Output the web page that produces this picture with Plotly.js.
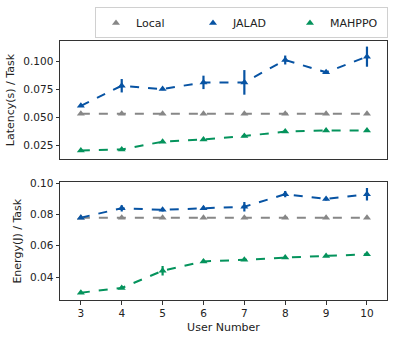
<!DOCTYPE html>
<html>
<head>
<meta charset="utf-8">
<script src="https://cdn.plot.ly/plotly-3.0.1.min.js"></script>
<style>
  html, body { margin: 0; padding: 0; background: #fff; }
  #chart { width: 395px; height: 340px; }
</style>
</head>
<body>
<div id="chart"></div>
<script>
// user counts on the shared x axis
const users = [3, 4, 5, 6, 7, 8, 9, 10];

// latency per task (s)
const latencyLocal  = [0.053, 0.053, 0.053, 0.053, 0.053, 0.053, 0.053, 0.053];
const latencyJalad  = [0.060, 0.078, 0.075, 0.081, 0.081, 0.101, 0.090, 0.104];
const latencyJaladErr = [0.001, 0.006, 0.001, 0.006, 0.011, 0.004, 0.001, 0.009];
const latencyMahppo = [0.020, 0.021, 0.028, 0.030, 0.033, 0.037, 0.038, 0.038];
const latencyMahppoErr = [0.001, 0.001, 0.001, 0.001, 0.001, 0.001, 0.001, 0.001];

// energy per task (J)
const energyLocal  = [0.078, 0.078, 0.078, 0.078, 0.078, 0.078, 0.078, 0.078];
const energyJalad  = [0.078, 0.084, 0.083, 0.084, 0.085, 0.093, 0.090, 0.093];
const energyJaladErr = [0.0005, 0.002, 0.001, 0.001, 0.003, 0.002, 0.001, 0.004];
const energyMahppo = [0.030, 0.033, 0.044, 0.050, 0.051, 0.0525, 0.0535, 0.0545];
const energyMahppoErr = [0.0005, 0.0005, 0.003, 0.001, 0.0005, 0.0005, 0.0005, 0.001];

const colLocal = '#878787';
const colJalad = '#0753a3';
const colMahppo = '#04935c';

// dashed line with error bars, no legend entry
function line(name, y, err, color, panel) {
    const tr = {
        x: users, y: y, name: name, type: 'scatter', mode: 'lines',
        xaxis: panel === 1 ? 'x' : 'x2', yaxis: panel === 1 ? 'y' : 'y2',
        showlegend: false,
        line: { color: color, dash: 'dash', width: 2 }
    };
    if (err) {
        tr.error_y = { type: 'data', array: err, visible: true, color: color, thickness: 2.2, width: 0 };
    }
    return tr;
}

// triangle markers on the same points; these carry the legend
function marks(name, y, color, panel) {
    return {
        x: users, y: y, name: name, type: 'scatter', mode: 'markers',
        xaxis: panel === 1 ? 'x' : 'x2', yaxis: panel === 1 ? 'y' : 'y2',
        showlegend: panel === 1,
        marker: { color: color, symbol: 'triangle-up', size: 7 }
    };
}

const traces = [
    line('Local', latencyLocal, null, colLocal, 1),
    line('JALAD', latencyJalad, latencyJaladErr, colJalad, 1),
    line('MAHPPO', latencyMahppo, latencyMahppoErr, colMahppo, 1),
    line('Local', energyLocal, null, colLocal, 2),
    line('JALAD', energyJalad, energyJaladErr, colJalad, 2),
    line('MAHPPO', energyMahppo, energyMahppoErr, colMahppo, 2),
    marks('Local', latencyLocal, colLocal, 1),
    marks('JALAD', latencyJalad, colJalad, 1),
    marks('MAHPPO', latencyMahppo, colMahppo, 1),
    marks('Local', energyLocal, colLocal, 2),
    marks('JALAD', energyJalad, colJalad, 2),
    marks('MAHPPO', energyMahppo, colMahppo, 2)
];

const axisFont = { family: 'DejaVu Sans', size: 10.5, color: '#222' };
const titleFont = { family: 'DejaVu Sans', size: 11, color: '#222' };

const frame = {
    showline: true, mirror: true, linecolor: '#333', linewidth: 1,
    showgrid: false, zeroline: false, ticks: 'outside', ticklen: 3.5, tickcolor: '#333',
    tickfont: axisFont
};

const layout = {
    width: 395,
    height: 340,
    margin: { l: 60, r: 7, t: 30, b: 40 },
    paper_bgcolor: '#fff',
    plot_bgcolor: '#fff',
    font: axisFont,
    showlegend: true,
    legend: {
        orientation: 'h',
        x: 0.107, xanchor: 'left',
        y: 1.01, yanchor: 'bottom',
        bordercolor: '#d0d0d0', borderwidth: 1,
        font: { family: 'DejaVu Sans', size: 11, color: '#222' },
        itemwidth: 30,
        entrywidth: 52,
        traceorder: 'normal'
    },
    xaxis: Object.assign({}, frame, {
        domain: [0, 1], range: [2.49, 10.49], anchor: 'y',
        tickvals: users, showticklabels: false, ticks: ''
    }),
    yaxis: Object.assign({}, frame, {
        domain: [0.544, 1], range: [0.0124, 0.118], anchor: 'x',
        tickvals: [0.025, 0.05, 0.075, 0.1], tickformat: '.3f',
        title: { text: 'Latency(s) / Task', font: titleFont, standoff: 6 }
    }),
    xaxis2: Object.assign({}, frame, {
        domain: [0, 1], range: [2.49, 10.49], anchor: 'y2',
        tickvals: users,
        title: { text: 'User Number', font: titleFont, standoff: 5 }
    }),
    yaxis2: Object.assign({}, frame, {
        domain: [0, 0.4537], range: [0.0253, 0.1005], anchor: 'x2',
        tickvals: [0.04, 0.06, 0.08, 0.1], tickformat: '.2f',
        title: { text: 'Energy(J) / Task', font: titleFont, standoff: 6 }
    })
};

Plotly.newPlot('chart', traces, layout, { displayModeBar: false, staticPlot: true });
</script>
</body>
</html>
